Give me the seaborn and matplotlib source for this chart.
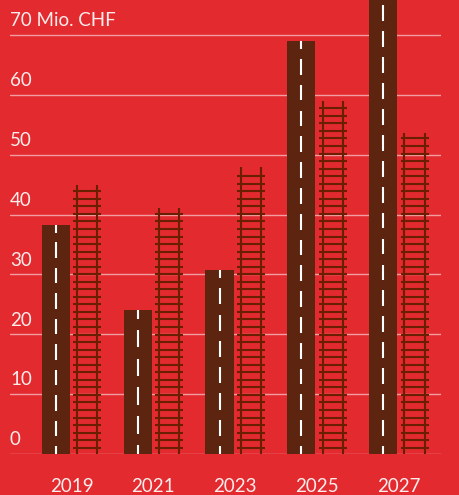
import numpy as np
import pandas as pd
import seaborn as sns
import matplotlib.pyplot as plt
from matplotlib import transforms

years = ["2019", "2021", "2023", "2025", "2027"]
strasse = [38.3, 24.1, 30.7, 69.0, 78.0]   # Mio. CHF, road (2027 runs off the top)
schiene = [44.9, 41.1, 47.9, 58.9, 53.6]   # Mio. CHF, rail
yticks = [0, 10, 20, 30, 40, 50, 60, 70]
ylabels = ["0", "10", "20", "30", "40", "50", "60", "70 Mio. CHF"]

red = "#E32A2F"
brown = "#6A1F02"
white = "#FCEDED"

df = pd.DataFrame({
    "year": years * 2,
    "kind": ["Strasse"] * 5 + ["Schiene"] * 5,
    "value": strasse + schiene,
})

sns.set_theme(style="white")
plt.rcParams["font.family"] = ["Lato", "DejaVu Sans"]

fig = plt.figure(figsize=(4.6, 4.95), dpi=100, facecolor=red)
ax = fig.add_axes([10 / 460, 41 / 495, 431 / 460, 454 / 495])
ax.set_facecolor(red)

sns.barplot(data=df, x="year", y="value", hue="kind", order=years,
            hue_order=["Strasse", "Schiene"],
            palette={"Strasse": brown, "Schiene": brown},
            width=0.77, gap=0.11, legend=False, ax=ax, zorder=2,
            linewidth=0, errorbar=None)

ax.set_ylim(0, 454 / 5.986)
ax.set_xlim(-0.751, 4.512)
ax.set_yticks(yticks)
ax.yaxis.grid(True, color="white", alpha=0.55, linewidth=1)
ax.set_axisbelow(True)
for s in ax.spines.values():
    s.set_visible(False)
ax.tick_params(axis="y", left=False, labelleft=False)
ax.tick_params(axis="x", bottom=False, pad=11, labelsize=13.5, labelcolor=white)
ax.set_xlabel("")
ax.set_ylabel("")

# y labels sit just above each gridline, left aligned
trans = transforms.blended_transform_factory(ax.transAxes, ax.transData)
for t, lab in zip(yticks, ylabels):
    ax.text(0.0, t + 1.45, lab, transform=trans, ha="left", va="baseline",
            fontsize=13.5, color=white)

bars = ax.patches[:10]
road = bars[:5]
rail = bars[5:]

# road: white centre dashes, centred on both ends of the bar
for p in road:
    h = p.get_height()
    xc = p.get_x() + p.get_width() / 2
    n = max(1, int(round(h / 4.45)))
    per = h / n
    dl = 0.61 * per
    for k in range(n + 1):
        c = k * per
        a, b = max(0, c - dl / 2), min(h, c + dl / 2)
        ax.plot([xc, xc], [a, b], color="white", lw=1.5,
                solid_capstyle="butt", zorder=3)

# rail: replace the bar with a track (two rails + ties)
for p in rail:
    h = p.get_height()
    x0 = p.get_x()
    w = p.get_width()
    p.set_visible(False)
    for xr in (x0 + w * 0.13, x0 + w * 0.85):
        ax.plot([xr, xr], [0, h], color=brown, lw=1.5,
                solid_capstyle="butt", zorder=3)
    ties = np.arange(1.05, h - 0.75, 1.26)
    for ty in ties:
        ax.plot([x0, x0 + w], [ty, ty], color=brown, lw=1.5,
                solid_capstyle="butt", zorder=3)

fig.savefig("out.png", dpi=100, facecolor=red)
